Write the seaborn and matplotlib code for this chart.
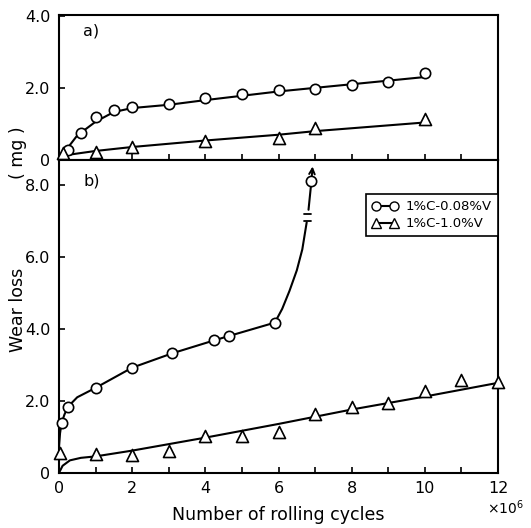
import numpy as np
import pandas as pd
import seaborn as sns
import matplotlib.pyplot as plt
from matplotlib.lines import Line2D

# ---- data (x in 10^6 cycles, wear loss in mg) ----
# panel a)
a_circ_x = [0.25, 0.6, 1.0, 1.5, 2.0, 3.0, 4.0, 5.0, 6.0, 7.0, 8.0, 9.0, 10.0]
a_circ_y = [0.28, 0.75, 1.19, 1.39, 1.47, 1.56, 1.72, 1.83, 1.94, 1.98, 2.08, 2.17, 2.42]
a_tri_x = [0.1, 1.0, 2.0, 4.0, 6.0, 7.0, 10.0]
a_tri_y = [0.18, 0.23, 0.37, 0.53, 0.62, 0.90, 1.15]
# fitted curves (knots)
a_circ_fit_x = [0, 0.25, 0.5, 1.0, 1.5, 2.0, 3.0, 4.0, 6.0, 8.0, 10.0]
a_circ_fit_y = [0, 0.35, 0.68, 1.06, 1.33, 1.44, 1.53, 1.66, 1.90, 2.10, 2.30]
a_tri_fit_x = [0, 0.3, 1.0, 2.0, 4.0, 6.0, 7.0, 10.0]
a_tri_fit_y = [0.08, 0.15, 0.25, 0.36, 0.54, 0.70, 0.80, 1.04]

# panel b)
b_circ_x = [0.07, 0.25, 1.0, 2.0, 3.1, 4.25, 4.65, 5.9, 6.9]
b_circ_y = [1.38, 1.84, 2.36, 2.92, 3.32, 3.68, 3.80, 4.17, 8.10]
b_tri_x = [0.03, 1.0, 2.0, 3.0, 4.0, 5.0, 6.0, 7.0, 8.0, 9.0, 10.0, 11.0, 12.0]
b_tri_y = [0.55, 0.53, 0.50, 0.60, 1.03, 1.03, 1.14, 1.63, 1.84, 1.93, 2.28, 2.58, 2.53]
b_circ_fit_x = [0, 0.03, 0.07, 0.15, 0.25, 0.5, 1.0, 2.0, 3.1, 4.25, 4.65, 5.9,
                6.1, 6.3, 6.5, 6.65, 6.77]
b_circ_fit_y = [0.7, 1.1, 1.38, 1.62, 1.84, 2.1, 2.36, 2.92, 3.32, 3.68, 3.80, 4.17,
                4.55, 5.05, 5.62, 6.2, 6.95]
b_circ_top_x = [6.82, 6.9, 6.93]
b_circ_top_y = [7.3, 8.1, 8.5]
b_tri_fit_x = [0, 0.1, 0.3, 0.6, 1.0, 2.0, 4.0, 6.0, 8.0, 10.0, 12.0]
b_tri_fit_y = [0, 0.2, 0.35, 0.42, 0.46, 0.62, 0.98, 1.36, 1.76, 2.12, 2.50]

labels = ['1%C-0.08%V', '1%C-1.0%V']

sns.set_style('ticks')
plt.rcParams['font.family'] = ['DejaVu Sans']
plt.rcParams['axes.linewidth'] = 1.5
plt.rcParams['text.color'] = 'black'
plt.rcParams['axes.labelcolor'] = 'black'
plt.rcParams['xtick.color'] = 'black'
plt.rcParams['ytick.color'] = 'black'
plt.rcParams['axes.edgecolor'] = 'black'

fig = plt.figure(figsize=(5.31, 5.28), dpi=100)
ax_a = fig.add_axes([0.111, 0.697, 0.827, 0.2746])
ax_b = fig.add_axes([0.111, 0.1042, 0.827, 0.5928])

line_kw = dict(color='black', linewidth=1.5)
circ_kw = dict(marker='o', s=55, facecolor='white', edgecolor='black', linewidth=1.2,
               zorder=5, clip_on=False)
tri_kw = dict(marker='^', s=75, facecolor='white', edgecolor='black', linewidth=1.2,
              zorder=5, clip_on=False)

# panel a
sns.lineplot(x=a_circ_fit_x, y=a_circ_fit_y, ax=ax_a, sort=False, **line_kw)
sns.lineplot(x=a_tri_fit_x, y=a_tri_fit_y, ax=ax_a, sort=False, **line_kw)
sns.scatterplot(x=a_circ_x, y=a_circ_y, ax=ax_a, **circ_kw)
sns.scatterplot(x=a_tri_x, y=a_tri_y, ax=ax_a, **tri_kw)

# panel b
sns.lineplot(x=b_circ_fit_x, y=b_circ_fit_y, ax=ax_b, sort=False, **line_kw)
sns.lineplot(x=b_circ_top_x[:2], y=b_circ_top_y[:2], ax=ax_b, sort=False, **line_kw)
sns.lineplot(x=b_tri_fit_x, y=b_tri_fit_y, ax=ax_b, sort=False, **line_kw)
sns.scatterplot(x=b_circ_x, y=b_circ_y, ax=ax_b, **circ_kw)
sns.scatterplot(x=b_tri_x, y=b_tri_y, ax=ax_b, **tri_kw)

# arrow above the last point, and the break mark
ax_b.annotate('', xy=(b_circ_top_x[2], b_circ_top_y[2]),
              xytext=(b_circ_top_x[1], b_circ_top_y[1]),
              arrowprops=dict(arrowstyle='->', color='black', lw=1.4,
                              mutation_scale=10, shrinkA=0, shrinkB=0),
              zorder=4)
brk_x = (b_circ_fit_x[-1] + b_circ_top_x[0]) / 2
for yy in (b_circ_fit_y[-1] + 0.04, b_circ_top_y[0] - 0.13):
    ax_b.plot([brk_x - 0.09, brk_x + 0.09], [yy, yy], color='black', lw=1.3)

for ax in (ax_a, ax_b):
    ax.set_xlim(0, 12)
    ax.set_xticks(np.arange(0, 13, 1))
    ax.tick_params(direction='in', length=4, width=1.2, labelsize=11.5, pad=6,
                   colors='black')
    for s in ax.spines.values():
        s.set_visible(True)
        s.set_linewidth(1.5)
        s.set_color('black')

ax_a.set_ylim(0, 4.02)
ax_a.set_yticks([0, 2, 4])
ax_a.set_yticklabels(['0', '2.0', '4.0'])
ax_a.set_xticklabels([])

ax_b.set_ylim(0, 8.68)
ax_b.set_yticks([0, 2, 4, 6, 8])
ax_b.set_yticklabels(['0', '2.0', '4.0', '6.0', '8.0'])
ax_b.set_xticklabels([str(v) if v % 2 == 0 else '' for v in range(0, 13)])

ax_a.text(0.055, 0.86, 'a)', transform=ax_a.transAxes, fontsize=11.5)
ax_b.text(0.055, 0.92, 'b)', transform=ax_b.transAxes, fontsize=11.5)

handles = [
    Line2D([0], [0], color='black', lw=1.5, marker='o', markersize=6.5,
           markerfacecolor='white', markeredgecolor='black'),
    Line2D([0], [0], color='black', lw=1.5, marker='^', markersize=6.5,
           markerfacecolor='white', markeredgecolor='black'),
]
leg = ax_b.legend(handles, labels, loc='upper right', bbox_to_anchor=(1.0, 0.89),
                  borderaxespad=0, numpoints=2, handlelength=2.0, fontsize=9.5,
                  frameon=True, fancybox=False, edgecolor='black', framealpha=1,
                  borderpad=0.45, labelspacing=0.3, handletextpad=0.6)
leg.get_frame().set_linewidth(1.2)

fig.text(0.034, 0.413, 'Wear loss', rotation=90, ha='center', va='center', fontsize=12.5)
fig.text(0.034, 0.71, '( mg )', rotation=90, ha='center', va='center', fontsize=12.5)
ax_b.set_xlabel('Number of rolling cycles', fontsize=12.5, labelpad=7)
fig.text(0.952, 0.02, r'$\times 10^6$', ha='center', va='bottom', fontsize=10)

fig.savefig('out.png', dpi=100)
